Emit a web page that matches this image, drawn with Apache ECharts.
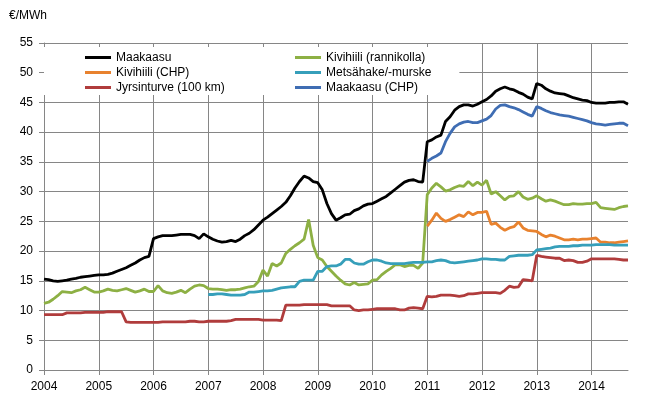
<!DOCTYPE html>
<html>
<head>
<meta charset="utf-8">
<script src="https://cdn.jsdelivr.net/npm/echarts@6/dist/echarts.min.js"></script>
<style>html,body{margin:0;padding:0;background:#fff}#c{width:654px;height:416px}</style>
</head>
<body>
<div id="c"></div>
<script>
// Monthly categories Jan 2004 .. Sep 2014
const months = [];
for (let y = 2004; y <= 2014; y++) {
  for (let m = 1; m <= 12; m++) {
    if (y === 2014 && m > 9) break;
    months.push(y + '-' + String(m).padStart(2, '0'));
  }
}
const yTicks = [0, 5, 10, 15, 20, 25, 30, 35, 40, 45, 50, 55];

const maakaasu = [
  15.3,15.2,15.0,14.9,15.0,15.1,15.3,15.4,15.6,15.7,15.8,15.9,
  16.0,16.0,16.1,16.3,16.6,16.9,17.2,17.6,18.0,18.5,18.9,19.1,
  22.1,22.4,22.6,22.6,22.6,22.7,22.8,22.8,22.8,22.6,22.1,22.9,
  22.4,22.0,21.7,21.5,21.6,21.8,21.6,22.0,22.6,23.0,23.6,24.4,
  25.2,25.7,26.3,26.9,27.5,28.2,29.3,30.6,31.7,32.6,32.3,31.7,
  31.5,30.3,28.0,26.3,25.2,25.6,26.1,26.2,26.8,27.1,27.6,27.9,
  28.0,28.4,28.8,29.2,29.8,30.4,31.0,31.6,31.9,32.0,31.7,31.6,
  38.4,38.7,39.2,39.5,41.8,42.6,43.7,44.3,44.6,44.6,44.4,44.7,
  45.1,45.5,46.1,46.9,47.3,47.6,47.3,47.1,46.7,46.4,45.9,45.6,
  48.2,47.9,47.3,46.9,46.6,46.5,46.4,46.1,45.8,45.6,45.4,45.3,
  45.0,44.9,44.9,44.9,45.0,45.0,45.1,45.1,44.7
];
const kivihiiliRannikolla = [
  11.2,11.4,11.9,12.5,13.2,13.1,13.0,13.3,13.5,13.9,13.5,13.1,
  13.1,13.3,13.6,13.4,13.3,13.5,13.7,13.4,13.1,13.3,13.6,13.2,
  13.2,14.2,13.3,13.0,12.9,13.1,13.4,13.0,13.6,14.1,14.3,14.2,
  13.7,13.6,13.6,13.5,13.4,13.5,13.5,13.6,13.8,14.0,14.1,14.9,
  16.8,15.8,17.9,17.5,18.0,19.6,20.3,20.9,21.4,22.0,25.3,21.0,
  18.9,18.5,17.4,16.6,15.8,15.1,14.5,14.3,14.7,14.3,14.4,14.5,
  15.1,15.2,16.0,16.6,17.1,17.7,17.7,17.4,17.6,17.6,17.1,18.0,
  29.5,30.6,31.4,30.8,30.1,30.3,30.7,31.0,30.9,31.7,31.0,31.6,
  31.1,31.9,29.6,30.0,29.3,28.6,29.2,29.3,30.0,29.1,28.7,28.9,
  29.3,28.8,28.4,28.6,28.4,28.1,27.8,27.8,28.0,27.9,27.9,28.0,
  28.0,28.2,27.3,27.2,27.1,27.0,27.3,27.5,27.6
];
const kivihiiliCHP = [
  null,null,null,null,null,null,null,null,null,null,null,null,
  null,null,null,null,null,null,null,null,null,null,null,null,
  null,null,null,null,null,null,null,null,null,null,null,null,
  null,null,null,null,null,null,null,null,null,null,null,null,
  null,null,null,null,null,null,null,null,null,null,null,null,
  null,null,null,null,null,null,null,null,null,null,null,null,
  null,null,null,null,null,null,null,null,null,null,null,null,
  24.2,25.2,26.4,25.5,25.0,25.3,25.7,26.1,25.8,26.6,26.1,26.5,
  26.5,26.7,24.5,24.7,24.0,23.5,23.9,24.1,24.9,23.9,23.5,23.4,
  23.3,22.8,22.4,22.7,22.5,22.2,21.9,21.9,22.0,21.9,22.0,22.0,
  22.1,22.2,21.5,21.5,21.4,21.4,21.5,21.6,21.7
];
const metsahake = [
  null,null,null,null,null,null,null,null,null,null,null,null,
  null,null,null,null,null,null,null,null,null,null,null,null,
  null,null,null,null,null,null,null,null,null,null,null,null,
  12.7,12.7,12.8,12.8,12.7,12.6,12.6,12.6,12.7,13.1,13.1,13.2,
  13.3,13.3,13.4,13.6,13.8,13.9,14.0,14.0,14.9,15.1,15.1,15.1,
  16.6,16.6,17.4,17.5,17.5,17.8,18.6,18.6,18.0,17.8,17.8,18.2,
  18.5,18.5,18.3,18.0,17.9,17.9,17.9,17.9,18.0,18.1,18.1,18.1,
  18.2,18.2,18.4,18.5,18.4,18.1,18.0,18.1,18.2,18.3,18.4,18.5,
  18.7,18.7,18.6,18.6,18.5,18.5,19.1,19.2,19.3,19.3,19.3,19.4,
  20.2,20.3,20.4,20.5,20.7,20.8,20.8,20.8,20.9,20.9,21.0,21.0,
  21.0,21.1,21.1,21.1,21.1,21.0,21.0,21.0,21.0
];
const jyrsinturve = [
  9.3,9.3,9.3,9.3,9.3,9.6,9.6,9.6,9.6,9.7,9.7,9.7,
  9.7,9.7,9.8,9.8,9.8,9.8,8.1,8.0,8.0,8.0,8.0,8.0,
  8.0,8.0,8.1,8.1,8.1,8.1,8.1,8.1,8.2,8.2,8.1,8.1,
  8.2,8.2,8.2,8.2,8.2,8.3,8.5,8.5,8.5,8.5,8.5,8.5,
  8.4,8.4,8.4,8.4,8.3,10.9,10.9,10.9,10.9,11.0,11.0,11.0,
  11.0,11.0,11.0,10.8,10.8,10.8,10.8,10.8,10.1,10.0,10.1,10.1,
  10.2,10.3,10.3,10.3,10.3,10.3,10.1,10.1,10.4,10.5,10.4,10.3,
  12.4,12.3,12.4,12.6,12.6,12.6,12.5,12.4,12.5,12.8,12.8,12.9,
  13.0,13.0,13.0,13.0,12.9,13.4,14.1,13.9,14.0,15.2,15.1,15.0,
  19.3,19.1,19.0,18.9,18.8,18.8,18.4,18.5,18.4,18.1,18.1,18.3,
  18.7,18.7,18.7,18.7,18.7,18.7,18.6,18.5,18.5
];
const maakaasuCHP = [
  null,null,null,null,null,null,null,null,null,null,null,null,
  null,null,null,null,null,null,null,null,null,null,null,null,
  null,null,null,null,null,null,null,null,null,null,null,null,
  null,null,null,null,null,null,null,null,null,null,null,null,
  null,null,null,null,null,null,null,null,null,null,null,null,
  null,null,null,null,null,null,null,null,null,null,null,null,
  null,null,null,null,null,null,null,null,null,null,null,null,
  35.1,35.6,36.0,36.5,38.4,39.8,40.9,41.4,41.7,41.8,41.6,41.6,
  41.9,42.2,42.8,43.9,44.5,44.6,44.3,44.1,43.8,43.4,43.0,42.7,
  44.3,44.0,43.6,43.3,43.1,42.9,42.8,42.7,42.5,42.3,42.1,41.9,
  41.6,41.4,41.3,41.2,41.3,41.4,41.5,41.5,41.1
];

const FONT = 'Liberation Sans, Arial, sans-serif';
const GRID = '#868686';
const isJan = (idx, val) => String(val).slice(5) === '01';

function line(name, data, color) {
  return {
    name, type: 'line', data, symbol: 'none', showSymbol: false,
    connectNulls: false,
    lineStyle: { width: 2.8, color }, itemStyle: { color },
    emphasis: { disabled: true }
  };
}

const chart = echarts.init(document.getElementById('c'), null, { renderer: 'canvas' });
const legendBase = {
  orient: 'vertical', top: 47, icon: 'rect', itemWidth: 26, itemHeight: 3, itemGap: 0,
  backgroundColor: '#fff', selectedMode: false,
  textStyle: { fontFamily: FONT, fontSize: 12, lineHeight: 15, color: '#000' }
};
chart.setOption({
  animation: false,
  title: { text: '€/MWh', left: 9, top: 10, padding: 0,
    textStyle: { fontFamily: FONT, fontSize: 12, fontWeight: 'normal', color: '#000' } },
  legend: [
    Object.assign({}, legendBase, { left: 44, padding: [3, 20, 0, 41],
      data: ['Maakaasu', 'Kivihiili (CHP)', 'Jyrsinturve (100 km)'] }),
    Object.assign({}, legendBase, { left: 240, padding: [3, 28, 0, 55],
      data: ['Kivihiili (rannikolla)', 'Metsähake/-murske', 'Maakaasu (CHP)'] })
  ],
  grid: { left: 44, right: 26, top: 43, bottom: 46, containLabel: false },
  xAxis: {
    type: 'category', data: months, boundaryGap: false,
    axisLine: { show: true, lineStyle: { color: GRID, width: 1 } },
    axisTick: { show: true, interval: isJan, length: 5, lineStyle: { color: GRID } },
    axisLabel: { interval: isJan, formatter: v => v.slice(0, 4), margin: 11,
      fontFamily: FONT, fontSize: 12, color: '#000' },
    splitLine: { show: true, interval: isJan, lineStyle: { color: GRID, width: 1 } }
  },
  yAxis: {
    type: 'value', min: yTicks[0], max: yTicks[yTicks.length - 1], interval: 5,
    axisLine: { show: true, lineStyle: { color: GRID, width: 1 } },
    axisTick: { show: true, length: 5, lineStyle: { color: GRID } },
    axisLabel: { margin: 11, fontFamily: FONT, fontSize: 12, color: '#000' },
    splitLine: { show: true, lineStyle: { color: GRID, width: 1 } }
  },
  series: [
    line('Maakaasu', maakaasu, '#000000'),
    line('Kivihiili (rannikolla)', kivihiiliRannikolla, '#8DB044'),
    line('Kivihiili (CHP)', kivihiiliCHP, '#E8822E'),
    line('Metsähake/-murske', metsahake, '#369FBA'),
    line('Jyrsinturve (100 km)', jyrsinturve, '#B03C3C'),
    line('Maakaasu (CHP)', maakaasuCHP, '#3F6DB3')
  ]
});
</script>
</body>
</html>
